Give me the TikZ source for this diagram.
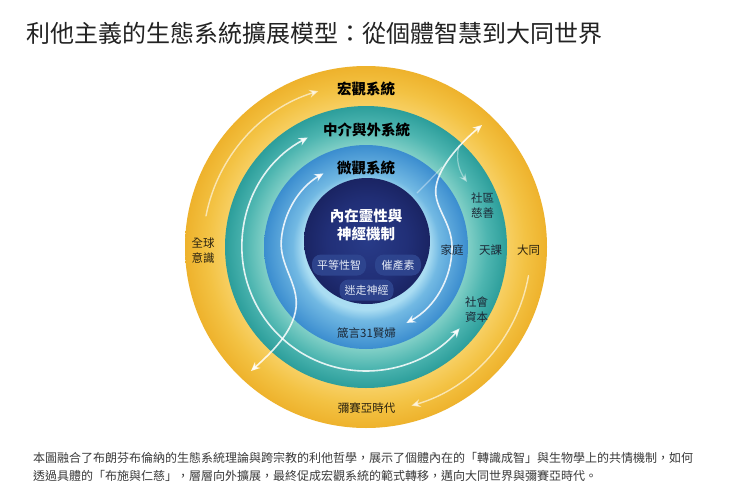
\documentclass[tikz,border=0pt]{standalone}
\usepackage{fontspec}
\setmainfont{Noto Sans CJK TC}
\usetikzlibrary{arrows.meta,calc}
\definecolor{yin}{HTML}{F7CF62}
\definecolor{ymid}{HTML}{F3C243}
\definecolor{yout}{HTML}{EEB22C}
\definecolor{tin}{HTML}{80CFC6}
\definecolor{tmid}{HTML}{4DB5B0}
\definecolor{tout}{HTML}{2C9E9B}
\definecolor{bin}{HTML}{AADDF2}
\definecolor{bmid}{HTML}{72B9E3}
\definecolor{bout}{HTML}{3B8DCF}
\definecolor{nin}{HTML}{283B88}
\definecolor{nmid}{HTML}{212F77}
\definecolor{nout}{HTML}{1A2463}
\definecolor{pillc}{HTML}{2F4690}
\definecolor{pilltext}{HTML}{E4EAF6}
\definecolor{titlec}{HTML}{222222}
\definecolor{capc}{HTML}{3A3A3A}
\definecolor{lblc}{HTML}{1C2836}
\definecolor{ylblc}{HTML}{2A2210}
\pgfdeclareradialshading{yring}{\pgfpointorigin}{color(0bp)=(yin); color(19.5bp)=(yin); color(22bp)=(ymid); color(25bp)=(yout); color(50bp)=(yout)}
\pgfdeclareradialshading{tring}{\pgfpointorigin}{color(0bp)=(tin); color(18.1bp)=(tin); color(21.5bp)=(tmid); color(25bp)=(tout); color(50bp)=(tout)}
\pgfdeclareradialshading{bring}{\pgfpointorigin}{color(0bp)=(bin); color(15.4bp)=(bin); color(18bp)=(bmid); color(25bp)=(bout); color(50bp)=(bout)}
\pgfdeclareradialshading{nring}{\pgfpointorigin}{color(0bp)=(nin); color(16bp)=(nmid); color(25bp)=(nout); color(50bp)=(nout)}
\newcommand{\setfs}[2]{\fontsize{#1}{#2}\selectfont}
\begin{document}
\begin{tikzpicture}[x=1pt,y=-1pt,
  ringlbl/.style={inner sep=0pt, text=black, font=\setfs{14.5}{17}\bfseries},
  coretitle/.style={inner sep=0pt, text=white, align=center, font=\setfs{14.5}{17.5}\bfseries},
  pill/.style={rounded corners=9pt, fill=pillc, fill opacity=0.9, text opacity=1, text=pilltext, minimum height=21pt, inner sep=0pt, font=\setfs{11}{13}},
  lbl/.style={inner sep=0pt, text=lblc, align=center, font=\setfs{11.5}{15}},
  ylbl/.style={lbl, text=ylblc},
  warr/.style={draw=white, line width=1.6pt, opacity=0.85, line cap=round, {Stealth[length=9pt,width=8pt]}-{Stealth[length=9pt,width=8pt]}},
  warrend/.style={draw=white, line width=1.4pt, opacity=0.6, line cap=round, -{Stealth[length=9pt,width=8pt]}},
  wfaint/.style={draw=white, line width=1.2pt, opacity=0.4, line cap=round}
]
\useasboundingbox (0,0) rectangle (740,496);
\fill[white] (0,0) rectangle (740,496);

% rings
\coordinate (C) at (366,247);
\coordinate (N) at (367,241);
\shade[shading=yring] (C) circle[radius=181];
\shade[shading=tring] (C) circle[radius=141];
\shade[shading=bring] (C) circle[radius=102];
\shade[shading=nring] (N) circle[radius=63];

% arrow end points
\coordinate (ya1) at ($(C)+(-169:163)$);
\coordinate (ya2) at ($(C)+(10:165)$);
\coordinate (ta1) at ($(C)+(-118:124)$);
\coordinate (ba1) at ($(C)+(-120:85)$);
\coordinate (ba2) at (251,371);
\coordinate (ra1) at ($(C)+(62:86)$);
\coordinate (ra2) at (482,125);
\coordinate (e1) at (417,193);
\coordinate (e2) at (442,167);
\coordinate (f1) at (459,146);
\coordinate (f2) at (467,182);

% arrows
\draw[warrend] (ya1) arc[start angle=-169, end angle=-107, radius=163];
\draw[warrend] (ya2) arc[start angle=10, end angle=74, radius=165];
\draw[warr] (ta1) arc[start angle=-118, end angle=-319, radius=124];
\draw[warr] (ba1) arc[start angle=-120, end angle=-175, radius=85]
   .. controls (279,265) and (299,284) .. (296,308)
   .. controls (293,332) and (272,352) .. (ba2);
\draw[warr] (ra1) arc[start angle=62, end angle=0, radius=86]
   .. controls (452,222) and (433,207) .. (436,187)
   .. controls (439,165) and (464,140) .. (ra2);
\draw[wfaint] (e1) .. controls (428,182) and (435,175) .. (e2);
\draw[wfaint, -{Stealth[length=8pt,width=7pt]}] (f1) .. controls (455,160) and (460,172) .. (f2);

% ring labels
\node[ringlbl] (macro) at (366,89) {宏觀系統};
\node[ringlbl] (meso) at (366.5,129.5) {中介與外系統};
\node[ringlbl] (micro) at (366,167.5) {微觀系統};

% core
\node[coretitle] (core) at (366,224.8) {內在靈性與\\神經機制};
\node[pill, minimum width=54pt] (p1) at (339,265) {平等性智};
\node[pill, minimum width=46pt] (p2) at (398,265) {催產素};
\node[pill, minimum width=54pt] (p3) at (366.5,290) {迷走神經};

% side labels
\node[lbl] (jia) at (452,250) {家庭};
\node[lbl] (tian) at (490.5,250) {天課};
\node[ylbl] (datong) at (528.5,250) {大同};
\node[lbl] (shequ) at (482.5,205.5) {社區\\慈善};
\node[lbl] (shehui) at (476.5,310) {社會\\資本};
\node[ylbl] (quanqiu) at (203,250.5) {全球\\意識};
\node[lbl] (zhen) at (366.5,333) {箴言31賢婦};
\node[ylbl] (mi) at (366.5,408) {彌賽亞時代};

% title and caption
\node[anchor=west, inner sep=0pt, text=titlec, font=\setfs{24}{28}] (title) at (26,33) {利他主義的生態系統擴展模型：從個體智慧到大同世界};
\node[anchor=west, inner sep=0pt, text=capc, font=\setfs{12}{16}] (cap1) at (33,458) {本圖融合了布朗芬布倫納的生態系統理論與跨宗教的利他哲學，展示了個體內在的「轉識成智」與生物學上的共情機制，如何};
\node[anchor=west, inner sep=0pt, text=capc, font=\setfs{12}{16}] (cap2) at (33,476) {透過具體的「布施與仁慈」，層層向外擴展，最終促成宏觀系統的範式轉移，邁向大同世界與彌賽亞時代。};
\end{tikzpicture}
\end{document}
